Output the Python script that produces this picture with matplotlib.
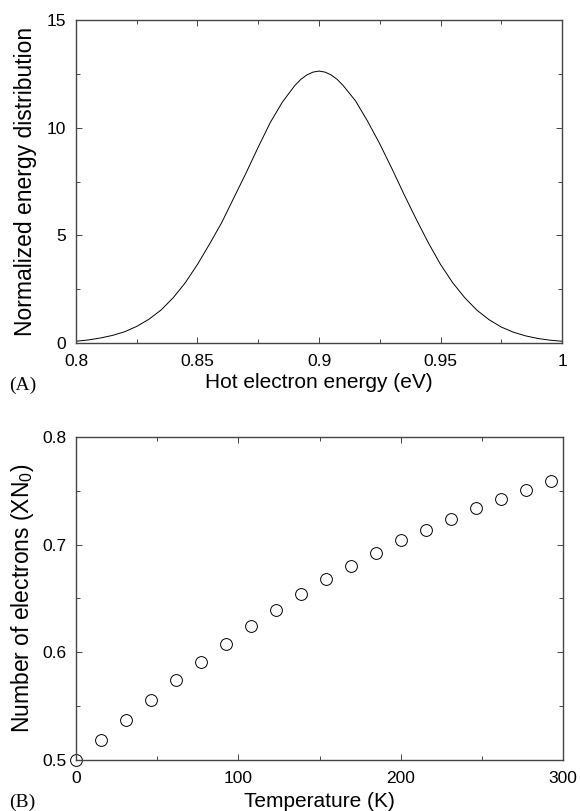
from matplotlib import pyplot as plt
from matplotlib.ticker import MultipleLocator

plt.rcParams['font.family'] = ['Liberation Sans', 'DejaVu Sans']
plt.rcParams['mathtext.fontset'] = 'custom'
plt.rcParams['mathtext.rm'] = 'Liberation Sans'
plt.rcParams['mathtext.it'] = 'Liberation Sans:italic'

# Panel A: normalized energy distribution vs hot electron energy
energy = [0.800, 0.805, 0.810, 0.815, 0.820, 0.825, 0.830, 0.835, 0.840,
          0.845, 0.850, 0.855, 0.860, 0.865, 0.870, 0.875, 0.880, 0.885,
          0.890, 0.8925, 0.895, 0.8975, 0.900, 0.9025, 0.905, 0.9075, 0.910,
          0.915, 0.920, 0.925, 0.930,
          0.935, 0.940, 0.945, 0.950, 0.955, 0.960, 0.965, 0.970, 0.975,
          0.980, 0.985, 0.990, 0.995, 1.000]
distribution = [0.08, 0.14, 0.23, 0.35, 0.52, 0.77, 1.10, 1.53, 2.10,
                2.80, 3.65, 4.60, 5.60, 6.75, 7.90, 9.10, 10.25, 11.20,
                11.95, 12.24, 12.45, 12.58, 12.63, 12.58, 12.45, 12.24, 11.95,
                11.25, 10.30, 9.25, 8.10,
                6.90, 5.75, 4.65, 3.65, 2.80, 2.10, 1.52, 1.08, 0.74,
                0.50, 0.33, 0.21, 0.13, 0.08]

# Panel B: number of electrons vs temperature
temperature = [0, 15.4, 30.8, 46.2, 61.5, 76.9, 92.3, 107.7, 123.1, 138.5,
               153.8, 169.2, 184.6, 200.0, 215.4, 230.8, 246.2, 261.5,
               276.9, 292.3]
electrons = [0.500, 0.519, 0.537, 0.556, 0.574, 0.591, 0.608, 0.624, 0.639,
             0.654, 0.668, 0.680, 0.692, 0.704, 0.714, 0.724, 0.734, 0.742,
             0.751, 0.759]


def style_axes(ax):
    for side in ax.spines.values():
        side.set_linewidth(1.0)
        side.set_color('#444444')
    ax.tick_params(which='both', direction='in', top=True, right=True,
                   labelsize=12.5, width=0.7, colors='#444444',
                   labelcolor='black')
    ax.tick_params(which='major', length=4)
    ax.tick_params(which='minor', length=3)
    ax.tick_params(axis='x', which='major', pad=8)
    ax.tick_params(axis='y', which='major', pad=7)


figure = plt.figure(figsize=(5.8, 8.11), dpi=100)

ax1 = figure.add_axes([0.131, 0.5771, 0.838, 0.3982])
ax1.plot(energy, distribution, color='black', linewidth=0.7)
ax1.set_xlim(0.8, 1.0)
ax1.set_ylim(0, 15)
ax1.set_xticks([0.8, 0.85, 0.9, 0.95, 1.0])
ax1.set_xticklabels(['0.8', '0.85', '0.9', '0.95', '1'])
ax1.set_yticks([0, 5, 10, 15])
ax1.set_yticklabels(['0', '5', '10', '15'])
ax1.xaxis.set_minor_locator(MultipleLocator(0.025))
ax1.yaxis.set_minor_locator(MultipleLocator(2.5))
ax1.set_xlabel('Hot electron energy (eV)', fontsize=15, labelpad=3)
ax1.set_ylabel('Normalized energy distribution', fontsize=16.5, labelpad=7)
style_axes(ax1)
figure.text(0.016, 0.525, '(A)', fontsize=14, family='Liberation Serif',
            va='center', ha='left')

ax2 = figure.add_axes([0.131, 0.0629, 0.840, 0.3983])
ax2.plot(temperature, electrons, linestyle='none', marker='o',
         markersize=8.5, markerfacecolor='none', markeredgecolor='black',
         markeredgewidth=0.7, clip_on=False)
ax2.set_xlim(0, 300)
ax2.set_ylim(0.5, 0.8)
ax2.set_xticks([0, 100, 200, 300])
ax2.set_xticklabels(['0', '100', '200', '300'])
ax2.set_yticks([0.5, 0.6, 0.7, 0.8])
ax2.set_yticklabels(['0.5', '0.6', '0.7', '0.8'])
ax2.xaxis.set_minor_locator(MultipleLocator(50))
ax2.yaxis.set_minor_locator(MultipleLocator(0.05))
ax2.set_xlabel('Temperature (K)', fontsize=15, labelpad=4)
ax2.set_ylabel(r'Number of electrons (XN$_0$)', fontsize=16.5, labelpad=4)
style_axes(ax2)
figure.text(0.016, 0.011, '(B)', fontsize=14, family='Liberation Serif',
            va='center', ha='left')

plt.savefig('out.png', dpi=100)
